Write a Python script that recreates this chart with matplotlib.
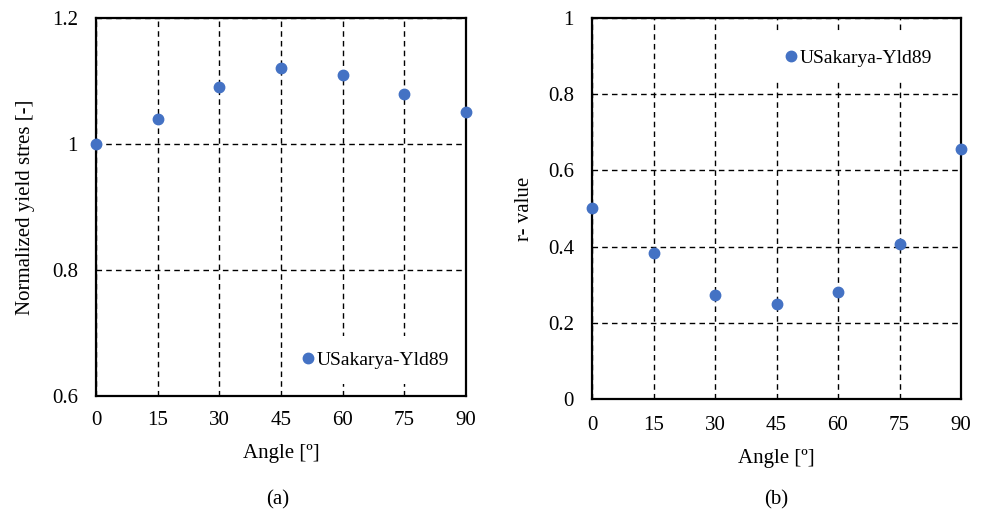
import matplotlib
matplotlib.use("Agg")
import matplotlib.pyplot as plt

angles = [0, 15, 30, 45, 60, 75, 90]
yield_stress = [1.00, 1.04, 1.09, 1.12, 1.11, 1.08, 1.05]
r_value = [0.502, 0.383, 0.274, 0.250, 0.281, 0.408, 0.655]
series_label = "USakarya-Yld89"
left_yticks = [0.6, 0.8, 1.0, 1.2]
left_yticklabels = ["0.6", "0.8", "1", "1.2"]
right_yticks = [0, 0.2, 0.4, 0.6, 0.8, 1.0]
right_yticklabels = ["0", "0.2", "0.4", "0.6", "0.8", "1"]

plt.rcParams['font.family'] = ['Liberation Serif', 'DejaVu Serif']
FS = 15
plt.rcParams['font.size'] = FS

fig = plt.figure(figsize=(9.84, 5.15), dpi=100)
W, H = 984, 515

def make_axes(x0, x1, ytop, ybot):
    return fig.add_axes([x0 / W, 1 - ybot / H, (x1 - x0) / W, (ybot - ytop) / H])

ax1 = make_axes(96, 466, 18, 396)
ax2 = make_axes(592, 961, 18, 399)

marker_color = '#4472C4'

for ax, xpad in ((ax1, 11), (ax2, 12)):
    ax.set_xlim(0, 90)
    ax.set_xticks(angles)
    ax.set_xticklabels([str(a) for a in angles])
    ax.grid(True, linestyle=(0, (4, 3)), color='black', linewidth=1.0)
    ax.set_axisbelow(True)
    for s in ax.spines.values():
        s.set_linewidth(1.6)
        s.set_color('black')
    ax.tick_params(axis='x', length=0, pad=xpad, labelsize=FS)
    ax.tick_params(axis='y', length=0, pad=13, labelsize=FS)
    ax.set_xlabel("Angle [º]", fontsize=FS, labelpad=10)

ax1.plot(angles, yield_stress, 'o', color=marker_color, markersize=7.5,
         label=series_label, clip_on=False, zorder=3)
ax1.set_ylim(0.6, 1.2)
ax1.set_yticks(left_yticks)
ax1.set_yticklabels(left_yticklabels)
ax1.set_ylabel("Normalized yield stres [-]", fontsize=FS, labelpad=12)
leg1 = ax1.legend(loc='center left', bbox_to_anchor=(0.515, 0.095), frameon=True,
                  fancybox=False, handlelength=0.6, handletextpad=0.15,
                  borderpad=0.8, borderaxespad=0.0, fontsize=14)
leg1.get_frame().set_facecolor('white')
leg1.get_frame().set_edgecolor('none')
leg1.get_frame().set_alpha(1)
leg1.set_zorder(2)

ax2.plot(angles, r_value, 'o', color=marker_color, markersize=7.5,
         label=series_label, clip_on=False, zorder=3)
ax2.set_ylim(0, 1)
ax2.set_yticks(right_yticks)
ax2.set_yticklabels(right_yticklabels)
ax2.set_ylabel("r- value", fontsize=FS, labelpad=10)
leg2 = ax2.legend(loc='center left', bbox_to_anchor=(0.48, 0.895), frameon=True,
                  fancybox=False, handlelength=0.6, handletextpad=0.15,
                  borderpad=0.8, borderaxespad=0.0, fontsize=14)
leg2.get_frame().set_facecolor('white')
leg2.get_frame().set_edgecolor('none')
leg2.get_frame().set_alpha(1)
leg2.set_zorder(2)

fig.text(278 / W, 1 - 500 / H, "(a)", ha='center', va='center', fontsize=FS)
fig.text(776 / W, 1 - 500 / H, "(b)", ha='center', va='center', fontsize=FS)

fig.savefig("out.png", dpi=100)
